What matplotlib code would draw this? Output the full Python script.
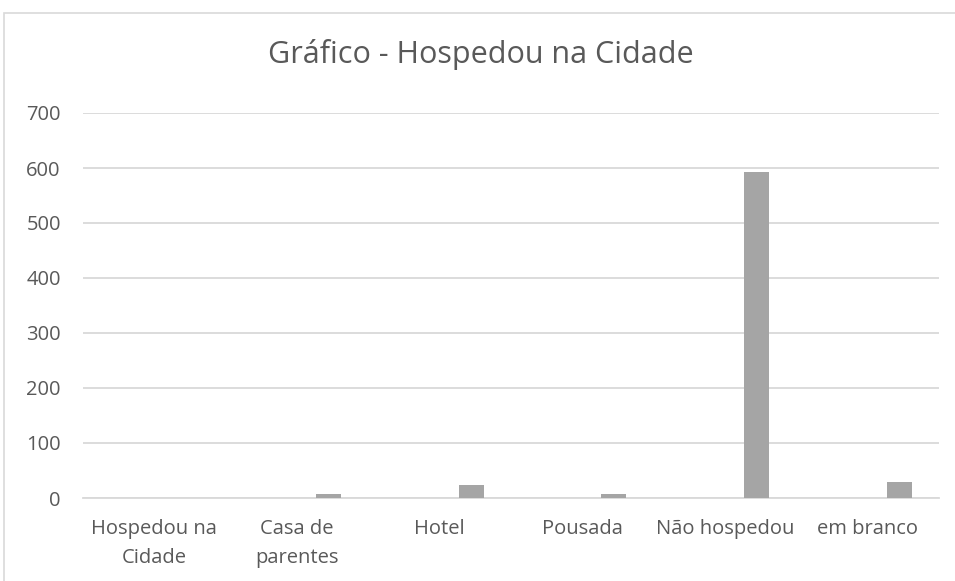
import matplotlib
matplotlib.use("Agg")
import matplotlib.pyplot as plt
from matplotlib.patches import Rectangle
import numpy as np

categories = ["Hospedou na\nCidade", "Casa de\nparentes", "Hotel", "Pousada", "Não hospedou", "em branco"]
values = [0, 7, 24, 8, 592, 30]
yticks = [0, 100, 200, 300, 400, 500, 600, 700]

plt.rcParams['font.family'] = ['Open Sans', 'DejaVu Sans']
text_color = "#595959"
grid_color = "#d9d9d9"
bar_color = "#a5a5a5"

fig = plt.figure(figsize=(9.55, 5.81), dpi=100)
fig.patches.append(Rectangle((4/955, -0.1), 1.2, 1 - 13/581 + 0.1, transform=fig.transFigure,
                             fill=False, edgecolor=grid_color, linewidth=1.2))

ax = fig.add_axes([83/955, 1 - 498/581, (939 - 83)/955, (498 - 113)/581])
x = np.arange(len(categories))
ax.bar(x + 0.221, values, width=0.176, color=bar_color, zorder=3)

ax.set_xlim(-0.5, len(categories) - 0.5)
ax.set_ylim(0, 700)
ax.set_yticks(yticks)
ax.set_yticklabels([str(t) for t in yticks])
ax.set_xticks(x)
ax.set_xticklabels(categories, linespacing=1.6)
ax.yaxis.grid(True, color=grid_color, linewidth=1.3, zorder=0)
ax.set_axisbelow(True)
for s in ["top", "right", "left"]:
    ax.spines[s].set_visible(False)
ax.spines["bottom"].set_color(grid_color)
ax.spines["bottom"].set_linewidth(1.3)
ax.tick_params(axis="both", length=0, colors=text_color, labelsize=14.5)
ax.tick_params(axis="x", pad=15)
ax.tick_params(axis="y", pad=16)

fig.text(481/955, 1 - 63/581, "Gráfico - Hospedou na Cidade", ha="center", va="baseline",
         fontsize=22, color=text_color)

fig.savefig("out.png", dpi=100)
